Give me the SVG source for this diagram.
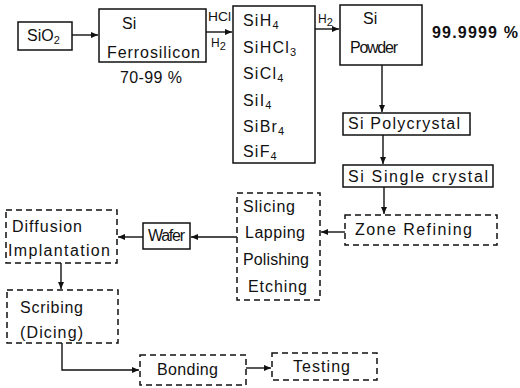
<svg xmlns="http://www.w3.org/2000/svg" width="520" height="388" viewBox="0 0 520 388">
<style>
  .box { fill: none; stroke: #111; stroke-width: 1.5; }
  .dash { fill: none; stroke: #111; stroke-width: 1.5; stroke-dasharray: 6 4; }
  .t { font-family: "Liberation Sans", Arial, sans-serif; font-size: 16px; fill: #111; }
  .s { font-family: "Liberation Sans", Arial, sans-serif; font-size: 12px; fill: #111; }
  .sub { font-size: 11px; }
  .ln { fill: none; stroke: #111; stroke-width: 1.4; }
</style>
<defs>
  <marker id="ah" markerWidth="8" markerHeight="8" refX="7" refY="4" orient="auto" markerUnits="userSpaceOnUse">
    <path d="M0,1 L7,4 L0,7 Z" fill="#111"/>
  </marker>
</defs>
<rect width="520" height="388" fill="#fff"/>

<g id="connectors">
  <line class="ln" x1="72" y1="35" x2="98" y2="35" marker-end="url(#ah)"/>
  <line class="ln" x1="206" y1="32" x2="232" y2="32" marker-end="url(#ah)"/>
  <line class="ln" x1="315" y1="29" x2="339" y2="29" marker-end="url(#ah)"/>
  <line class="ln" x1="382" y1="65" x2="382" y2="112" marker-end="url(#ah)"/>
  <line class="ln" x1="383" y1="135" x2="383" y2="164" marker-end="url(#ah)"/>
  <line class="ln" x1="384" y1="187" x2="384" y2="214" marker-end="url(#ah)"/>
  <line class="ln" x1="345" y1="232" x2="321" y2="232" marker-end="url(#ah)"/>
  <line class="ln" x1="237" y1="237" x2="191" y2="237" marker-end="url(#ah)"/>
  <line class="ln" x1="143" y1="237" x2="118" y2="237" marker-end="url(#ah)"/>
  <line class="ln" x1="61" y1="263" x2="61" y2="289" marker-end="url(#ah)"/>
  <polyline class="ln" points="62,343 62,370 139,370" marker-end="url(#ah)"/>
  <line class="ln" x1="246" y1="368" x2="271" y2="368" marker-end="url(#ah)"/>
  <text class="s" x="208" y="21" textLength="23" lengthAdjust="spacingAndGlyphs">HCl</text>
  <text class="s" x="211" y="47">H<tspan class="sub" dy="3">2</tspan></text>
  <text class="s" x="318" y="23">H<tspan class="sub" dy="3">2</tspan></text>
</g>

<g id="sio2">
  <rect class="box" x="18" y="22" width="54" height="28"/>
  <text class="t" x="27" y="41">SiO<tspan class="sub" dy="3">2</tspan></text>
</g>

<g id="ferrosilicon">
  <rect class="box" x="99" y="9" width="107" height="53"/>
  <text class="t" x="122" y="29">Si</text>
  <text class="t" x="107" y="58" textLength="93">Ferrosilicon</text>
  <text class="t" x="120" y="83" textLength="62">70-99 %</text>
</g>

<g id="halides">
  <rect class="box" x="233" y="6" width="82" height="157"/>
  <text class="t" x="243" y="26" letter-spacing="1.2">SiH<tspan class="sub" dy="3">4</tspan></text>
  <text class="t" x="243" y="53" letter-spacing="1.2">SiHCl<tspan class="sub" dy="3">3</tspan></text>
  <text class="t" x="243" y="79" letter-spacing="1.2">SiCl<tspan class="sub" dy="3">4</tspan></text>
  <text class="t" x="243" y="106" letter-spacing="1.2">SiI<tspan class="sub" dy="3">4</tspan></text>
  <text class="t" x="243" y="132" letter-spacing="1.2">SiBr<tspan class="sub" dy="3">4</tspan></text>
  <text class="t" x="243" y="157" letter-spacing="1.2">SiF<tspan class="sub" dy="3">4</tspan></text>
</g>

<g id="powder">
  <rect class="box" x="340" y="5" width="82" height="60"/>
  <text class="t" x="363" y="24">Si</text>
  <text class="t" x="350" y="53" textLength="48">Powder</text>
  <text class="t" x="432" y="38" font-weight="bold" textLength="86">99.9999 %</text>
</g>

<g id="polycrystal">
  <rect class="box" x="343" y="113" width="127" height="22"/>
  <text class="t" x="348" y="129" textLength="112">Si Polycrystal</text>
</g>

<g id="single">
  <rect class="box" x="343" y="165" width="150" height="22"/>
  <text class="t" x="348" y="182" textLength="140">Si Single crystal</text>
</g>

<g id="zone">
  <rect class="dash" x="345" y="215" width="152" height="30"/>
  <text class="t" x="355" y="235" textLength="117">Zone Refining</text>
</g>

<g id="slicing">
  <rect class="dash" x="237" y="193" width="83" height="107"/>
  <text class="t" x="243" y="212" textLength="52">Slicing</text>
  <text class="t" x="245" y="238" textLength="60">Lapping</text>
  <text class="t" x="243" y="265" textLength="66">Polishing</text>
  <text class="t" x="248" y="292" textLength="59">Etching</text>
</g>

<g id="wafer">
  <rect class="box" x="143" y="223" width="47" height="26"/>
  <text class="t" x="148" y="241" font-size="14" textLength="37">Wafer</text>
</g>

<g id="diffusion">
  <rect class="dash" x="6" y="210" width="111" height="53"/>
  <text class="t" x="12" y="232" textLength="70">Diffusion</text>
  <text class="t" x="8" y="256" textLength="102">Implantation</text>
</g>

<g id="scribing">
  <rect class="dash" x="7" y="290" width="111" height="53"/>
  <text class="t" x="20" y="313" textLength="63">Scribing</text>
  <text class="t" x="20" y="338" textLength="63">(Dicing)</text>
</g>

<g id="bonding">
  <rect class="dash" x="140" y="355" width="106" height="30"/>
  <text class="t" x="157" y="375" textLength="61">Bonding</text>
</g>

<g id="testing">
  <rect class="dash" x="272" y="353" width="105" height="27"/>
  <text class="t" x="293" y="372" textLength="57">Testing</text>
</g>
</svg>
